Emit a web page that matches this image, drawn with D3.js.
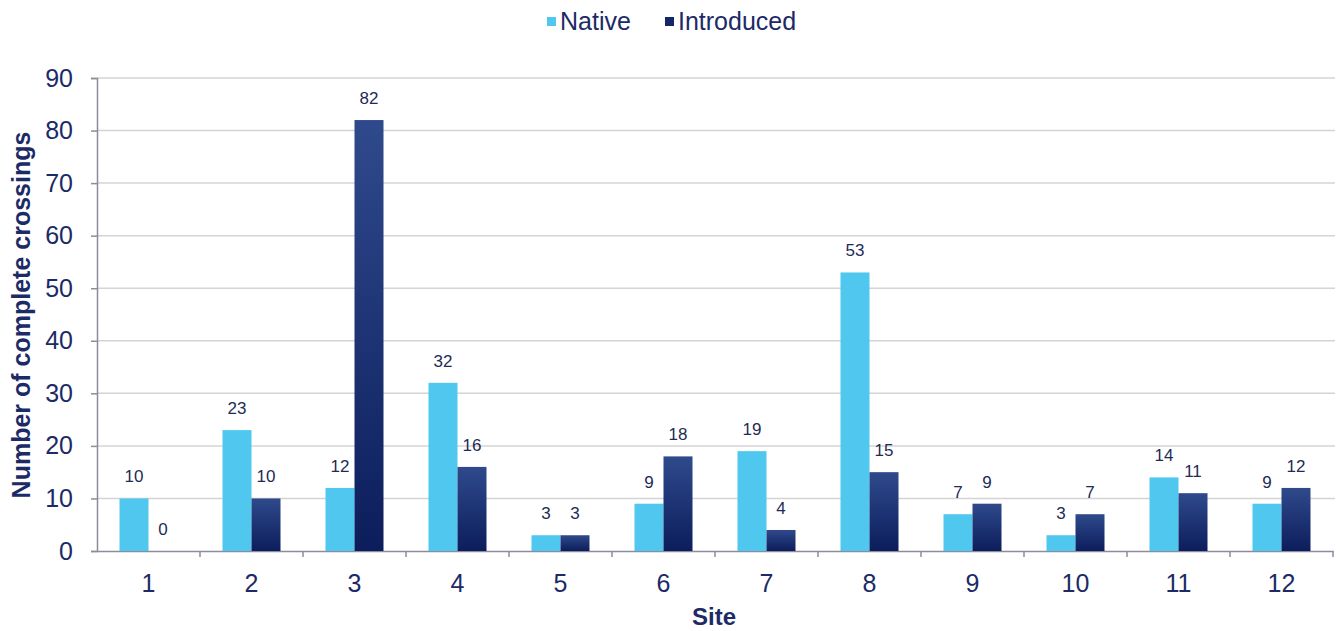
<!DOCTYPE html>
<html>
<head>
<meta charset="utf-8">
<script src="https://cdn.jsdelivr.net/npm/d3@7"></script>
<style>
  body { margin: 0; background: #fff; }
  text { font-family: "Liberation Sans", Arial, sans-serif; }
</style>
</head>
<body>
<svg id="chart" width="1338" height="631"></svg>
<script>
// site numbers and crossings per group
const sites = ["1", "2", "3", "4", "5", "6", "7", "8", "9", "10", "11", "12"]
const nativeCounts = [10, 23, 12, 32, 3, 9, 19, 53, 7, 3, 14, 9]
const introducedCounts = [0, 10, 82, 16, 3, 18, 4, 15, 9, 7, 11, 12]
const yTicks = [0, 10, 20, 30, 40, 50, 60, 70, 80, 90]
const seriesNames = ["Native", "Introduced"]

const navy = '#1c2a66'
const plotLeft = 97, plotRight = 1333, plotTop = 78, plotBottom = 551

let svg = d3.select('#chart')

// gradient for the dark bars, lighter at the top
let grad = svg.append('defs').append('linearGradient')
    .attr('id', 'darkGrad')
    .attr('x1', 0).attr('y1', 0).attr('x2', 0).attr('y2', 1)
grad.append('stop').attr('offset', '0%').attr('stop-color', '#2f4a8c')
grad.append('stop').attr('offset', '100%').attr('stop-color', '#0c1d5b')

let x = d3.scaleBand().domain(sites).range([plotLeft, plotRight])
let inner = d3.scaleBand().domain(seriesNames).range([0, 58])
let y = d3.scaleLinear().domain([0, 90]).range([plotBottom, plotTop])

// gridlines
svg.append('g')
    .selectAll('line')
    .data(yTicks.slice(1))
    .enter()
    .append('line')
    .attr('x1', plotLeft).attr('x2', plotRight + 2)
    .attr('y1', d => y(d)).attr('y2', d => y(d))
    .attr('stroke', '#d4d4d4')
    .attr('stroke-width', 1.5)

// y axis
let yAxis = svg.append('g')
    .attr('transform', `translate(${plotLeft},0)`)
    .call(d3.axisLeft(y).tickValues(yTicks).tickSize(6).tickPadding(18))
yAxis.select('.domain').attr('stroke', '#8c8c9c').attr('stroke-width', 1.5)
yAxis.selectAll('.tick line').attr('stroke', '#8c8c9c').attr('stroke-width', 1.5)
yAxis.selectAll('.tick text')
    .attr('fill', navy)
    .style('font-size', '25px')

// x axis, ticks on band edges
let xAxis = svg.append('g')
    .attr('transform', `translate(0,${plotBottom})`)
    .call(d3.axisBottom(x).tickSize(0).tickPadding(23))
xAxis.select('.domain').attr('stroke', '#8c8c9c').attr('stroke-width', 1.5)
xAxis.selectAll('.tick text')
    .attr('fill', navy)
    .style('font-size', '25px')
svg.append('g')
    .selectAll('line')
    .data(sites)
    .enter()
    .append('line')
    .attr('x1', d => x(d) + x.bandwidth()).attr('x2', d => x(d) + x.bandwidth())
    .attr('y1', plotBottom).attr('y2', plotBottom + 6)
    .attr('stroke', '#8c8c9c')
    .attr('stroke-width', 1.5)

// bars
let rows = sites.map((s, i) => ({ site: s, Native: nativeCounts[i], Introduced: introducedCounts[i] }))
let offset = (x.bandwidth() - 58) / 2

let groups = svg.append('g')
    .selectAll('g')
    .data(rows)
    .enter()
    .append('g')
    .attr('transform', d => `translate(${x(d.site) + offset},0)`)

groups.selectAll('rect')
    .data(d => seriesNames.map(k => ({ key: k, value: d[k] })))
    .enter()
    .append('rect')
    .attr('x', d => inner(d.key))
    .attr('y', d => y(d.value))
    .attr('width', inner.bandwidth())
    .attr('height', d => plotBottom - y(d.value))
    .attr('fill', d => d.key === 'Native' ? '#4fc7ef' : 'url(#darkGrad)')

groups.selectAll('text')
    .data(d => seriesNames.map(k => ({ key: k, value: d[k] })))
    .enter()
    .append('text')
    .attr('x', d => inner(d.key) + inner.bandwidth() / 2)
    .attr('y', d => y(d.value) - 16)
    .attr('text-anchor', 'middle')
    .attr('fill', '#1f2b55')
    .style('font-size', '17px')
    .text(d => d.value)

// axis titles
svg.append('text')
    .attr('transform', 'translate(30,315) rotate(-90)')
    .attr('text-anchor', 'middle')
    .attr('fill', navy)
    .style('font-size', '25px')
    .style('font-weight', 'bold')
    .text('Number of complete crossings')

svg.append('text')
    .attr('x', 714).attr('y', 625)
    .attr('text-anchor', 'middle')
    .attr('fill', navy)
    .style('font-size', '24px')
    .style('font-weight', 'bold')
    .text('Site')

// legend
let legendX = [547, 665]
let legend = svg.append('g')
    .selectAll('g')
    .data(seriesNames)
    .enter()
    .append('g')
    .attr('transform', (d, i) => `translate(${legendX[i]},0)`)
legend.append('rect')
    .attr('x', 0).attr('y', 17)
    .attr('width', 9).attr('height', 9)
    .attr('fill', d => d === 'Native' ? '#4fc7ef' : '#14266a')
legend.append('text')
    .attr('x', 13).attr('y', 30)
    .attr('fill', navy)
    .style('font-size', '25px')
    .text(d => d)
</script>
</body>
</html>
